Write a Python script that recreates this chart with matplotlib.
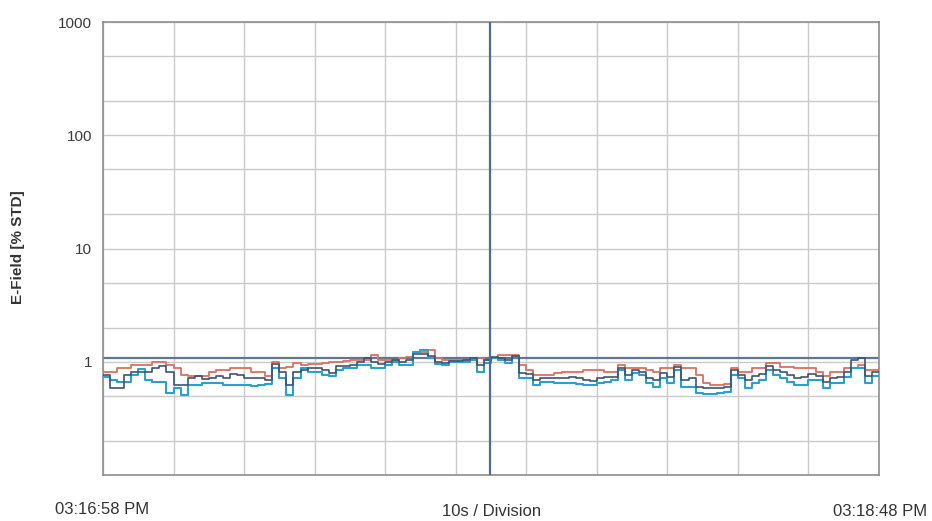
import numpy as np
import matplotlib
matplotlib.use('Agg')
import matplotlib.pyplot as plt
from matplotlib.ticker import FixedLocator, NullFormatter

plt.rcParams['font.family'] = ['Liberation Sans', 'DejaVu Sans']

# ---- data ----
time_s = np.arange(0, 111)  # one sample per second, 110 s window

red_vals = [0.816, 0.816, 0.885, 0.885, 0.941, 0.941, 0.941, 1.00, 1.00, 0.941,
            0.885, 0.768, 0.752, 0.752, 0.752, 0.816, 0.850, 0.850, 0.885, 0.885,
            0.885, 0.816, 0.816, 0.752, 1.00, 0.885, 0.903, 0.980, 0.941, 0.960,
            0.960, 0.980, 1.00, 1.00, 1.020, 1.041, 1.041, 1.041, 1.153, 1.041,
            1.041, 1.041, 1.085, 1.107, 1.225, 1.225, 1.276, 1.085, 1.041, 1.041,
            1.041, 1.041, 1.085, 1.085, 1.041, 1.085, 1.153, 1.153, 1.153, 0.941,
            0.850, 0.768, 0.768, 0.768, 0.800, 0.816, 0.816, 0.816, 0.850, 0.850,
            0.850, 0.816, 0.816, 0.941, 0.885, 0.885, 0.885, 0.850, 0.816, 0.885,
            0.885, 0.941, 0.885, 0.885, 0.768, 0.653, 0.627, 0.627, 0.640, 0.885,
            0.816, 0.816, 0.885, 0.885, 0.980, 0.980, 0.903, 0.903, 0.885, 0.885,
            0.885, 0.816, 0.752, 0.816, 0.816, 0.885, 0.885, 0.941, 0.850, 0.850,
            0.867]

navy_vals = [0.768, 0.590, 0.590, 0.768, 0.816, 0.816, 0.816, 0.885, 0.922, 0.816,
             0.627, 0.627, 0.722, 0.752, 0.708, 0.722, 0.752, 0.722, 0.783, 0.768,
             0.722, 0.722, 0.722, 0.694, 0.960, 0.816, 0.627, 0.816, 0.850, 0.885,
             0.885, 0.850, 0.800, 0.922, 0.922, 0.941, 1.00, 1.085, 1.00, 0.960,
             1.00, 1.041, 1.00, 1.041, 1.176, 1.176, 1.130, 1.00, 0.980, 1.020,
             1.020, 1.041, 1.085, 0.941, 1.041, 1.107, 1.085, 1.041, 1.130, 0.800,
             0.783, 0.694, 0.722, 0.722, 0.722, 0.722, 0.737, 0.722, 0.694, 0.680,
             0.722, 0.737, 0.737, 0.885, 0.768, 0.850, 0.816, 0.722, 0.694, 0.800,
             0.737, 0.903, 0.694, 0.722, 0.602, 0.590, 0.590, 0.590, 0.602, 0.850,
             0.768, 0.694, 0.752, 0.783, 0.922, 0.850, 0.816, 0.768, 0.722, 0.737,
             0.783, 0.752, 0.666, 0.722, 0.737, 0.816, 1.041, 1.085, 0.752, 0.816,
             0.816]

blue_vals = [0.737, 0.694, 0.666, 0.666, 0.768, 0.867, 0.694, 0.666, 0.666, 0.533,
             0.590, 0.512, 0.627, 0.627, 0.653, 0.653, 0.653, 0.627, 0.627, 0.627,
             0.627, 0.614, 0.627, 0.640, 0.885, 0.722, 0.512, 0.722, 0.885, 0.816,
             0.816, 0.768, 0.752, 0.850, 0.885, 0.885, 0.941, 0.941, 0.885, 0.885,
             0.941, 1.00, 0.941, 0.941, 1.225, 1.276, 1.085, 0.960, 0.941, 1.00,
             1.00, 1.00, 1.041, 0.816, 0.980, 1.085, 1.041, 0.980, 1.107, 0.722,
             0.722, 0.627, 0.666, 0.666, 0.653, 0.653, 0.653, 0.640, 0.627, 0.627,
             0.653, 0.666, 0.694, 0.850, 0.694, 0.800, 0.768, 0.653, 0.602, 0.722,
             0.653, 0.850, 0.602, 0.602, 0.533, 0.522, 0.522, 0.533, 0.544, 0.768,
             0.722, 0.590, 0.653, 0.694, 0.850, 0.768, 0.722, 0.666, 0.627, 0.627,
             0.694, 0.694, 0.590, 0.653, 0.653, 0.737, 0.885, 0.885, 0.653, 0.752,
             0.752]

ytick_vals = [1, 10, 100, 1000]
ytick_labels = ['1', '10', '100', '1000']
yminor_vals = [0.2, 0.5, 2, 5, 20, 50, 200, 500]
xdiv_vals = list(range(0, 111, 10))
cursor_t = 54.9
ref_level = 1.09

start_label = '03:16:58 PM'
end_label = '03:18:48 PM'
div_label = '10s / Division'
y_label = 'E-Field [% STD]'

# ---- figure ----
W, H = 932, 521
fig = plt.figure(figsize=(W / 100, H / 100), dpi=100)
fig.patch.set_facecolor('white')
ax = fig.add_axes([103 / W, 1 - 475 / H, 776 / W, 453 / H])

ax.set_yscale('log')
ax.set_ylim(0.1, 1000)
ax.set_xlim(0, 110)

ax.yaxis.set_major_locator(FixedLocator(ytick_vals))
ax.set_yticklabels(ytick_labels)
ax.yaxis.set_minor_locator(FixedLocator(yminor_vals))
ax.yaxis.set_minor_formatter(NullFormatter())
ax.set_xticks(xdiv_vals)
ax.set_xticklabels([])

ax.grid(which='both', color='#cacaca', lw=1.0)
ax.set_axisbelow(True)
ax.tick_params(which='both', length=0)
ax.tick_params(axis='y', labelsize=11, colors='#3a3a3a', pad=8)
for sp in ax.spines.values():
    sp.set_color('#8e8e8e')
    sp.set_linewidth(1.2)

ax.axhline(ref_level, color='#5c7797', lw=1.6, zorder=2)
ax.axvline(cursor_t, color='#4c6e96', lw=1.6, zorder=5)

ax.plot(time_s, red_vals, drawstyle='steps-post', color='#d9705e', lw=1.3, zorder=3)
ax.plot(time_s, blue_vals, drawstyle='steps-post', color='#2aa0d0', lw=1.5, zorder=4)
ax.plot(time_s, navy_vals, drawstyle='steps-post', color='#3d5472', lw=1.2, zorder=4)

fig.text(102 / W, 1 - 510 / H, start_label, ha='center', va='center',
         fontsize=12, color='#333333')
fig.text(492 / W, 1 - 511 / H, div_label, ha='center', va='center',
         fontsize=12, color='#333333')
fig.text(927 / W, 1 - 511 / H, end_label, ha='right', va='center',
         fontsize=12, color='#333333')
fig.text(18 / W, 1 - 247 / H, y_label, ha='center', va='center', rotation=90,
         fontsize=11, fontweight='bold', color='#333333')

fig.savefig('out.png', dpi=100)
